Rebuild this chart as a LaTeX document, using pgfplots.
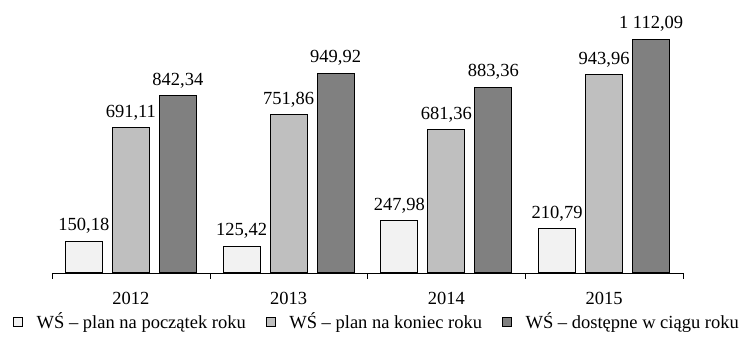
\documentclass[border=0pt]{standalone}
\usepackage{pgfplots}
\pgfplotsset{compat=1.18}
\usepackage{fontspec}
\setmainfont{Liberation Serif}
\definecolor{cA}{HTML}{F2F2F2}
\definecolor{cB}{HTML}{BFBFBF}
\definecolor{cC}{HTML}{808080}
\begin{document}
\fontsize{18.5pt}{22pt}\selectfont
\begin{tikzpicture}
\begin{axis}[
  scale only axis,
  width=631pt, height=272.7pt,
  anchor=south west, at={(0,0)},
  xmin=-0.5, xmax=3.5, ymin=0, ymax=1299,
  axis y line=none,
  axis x line*=bottom,
  x axis line style={black, -},
  xtick={-0.5,0.5,1.5,2.5,3.5},
  xticklabels={},
  major tick length=6pt,
  tick style={black},
  xtick pos=bottom,
  xtick align=outside,
  extra x ticks={0,1,2,3},
  extra x tick labels={2012,2013,2014,2015},
  extra x tick style={major tick length=0pt},
  xticklabel style={yshift=-13pt},
  ybar=10pt, bar width=37pt,
  nodes near coords,
  every node near coord/.append style={font=\fontsize{18.5pt}{22pt}\selectfont, yshift=1pt},
  /pgf/number format/.cd, use comma, fixed, fixed zerofill, precision=2, 1000 sep={\ }, assume math mode=true,
  /pgfplots/.cd,
  legend columns=3,
  legend style={draw=none, fill=none, at={(0.515,-0.181)}, anchor=center,
    font=\fontsize{18.5pt}{22pt}\selectfont,
    /tikz/every odd column/.append style={column sep=12pt},
    /tikz/every even column/.append style={column sep=18pt}},
  legend image code/.code={\draw[#1, draw=black, line width=0.6pt] (0pt,-4.5pt) rectangle (9pt,4.5pt);},
]
\addplot[fill=cA, draw=black, line width=0.8pt] coordinates {(0,150.18) (1,125.42) (2,247.98) (3,210.79)};
\addplot[fill=cB, draw=black, line width=0.8pt] coordinates {(0,691.11) (1,751.86) (2,681.36) (3,943.96)};
\addplot[fill=cC, draw=black, line width=0.8pt] coordinates {(0,842.34) (1,949.92) (2,883.36) (3,1112.09)};
\legend{WŚ – plan na początek roku, WŚ – plan na koniec roku, WŚ – dostępne w ciągu roku}
\end{axis}
\pgfresetboundingbox
\path[use as bounding box] (-52pt,-68.3pt) rectangle (697pt,272.7pt);
\end{tikzpicture}
\end{document}
